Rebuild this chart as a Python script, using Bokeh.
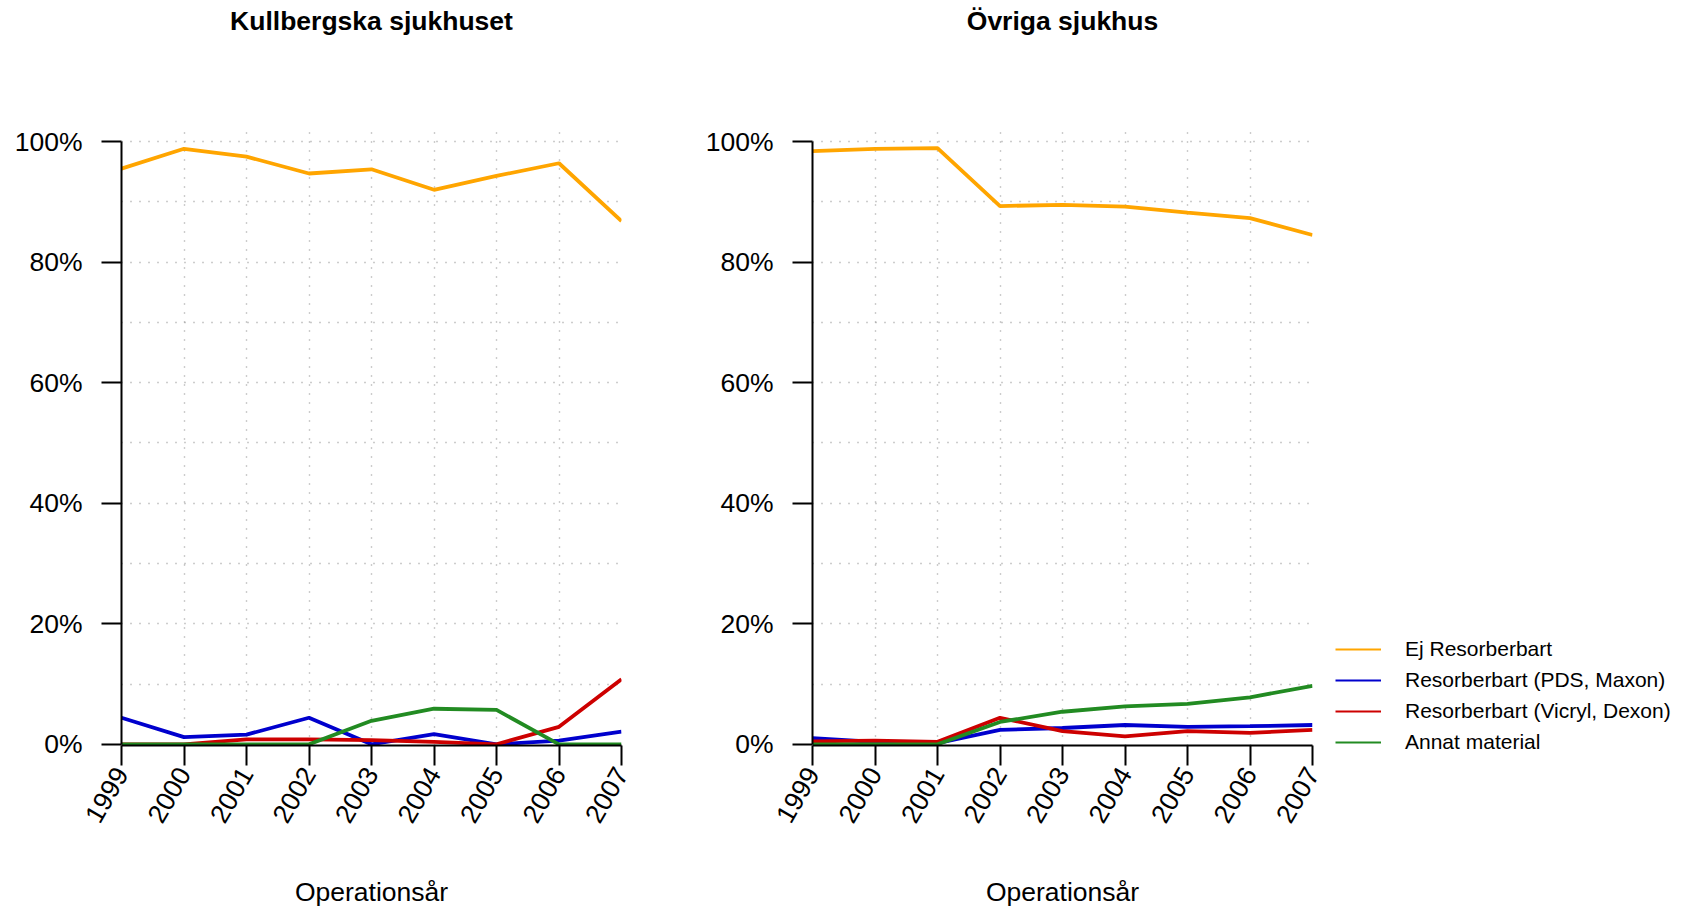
import math
from bokeh.plotting import figure
from bokeh.models import FixedTicker, NumeralTickFormatter, Range1d, Legend, LegendItem
from bokeh.core.properties import value
from bokeh.layouts import row, column
from bokeh.embed import file_html
from bokeh.resources import INLINE

years = [1999, 2000, 2001, 2002, 2003, 2004, 2005, 2006, 2007]
series_names = ["Ej Resorberbart", "Resorberbart (PDS, Maxon)",
                "Resorberbart (Vicryl, Dexon)", "Annat material"]
colors = ["#FFA500", "#0000CD", "#CD0000", "#228B22"]

panel_titles = ["Kullbergska sjukhuset", "Övriga sjukhus"]

kull_ej = [0.955, 0.988, 0.975, 0.947, 0.954, 0.920, 0.943, 0.964, 0.868]
kull_pds = [0.044, 0.012, 0.016, 0.044, 0.000, 0.017, 0.000, 0.006, 0.021]
kull_vicryl = [0.000, 0.000, 0.008, 0.008, 0.007, 0.004, 0.000, 0.029, 0.108]
kull_annat = [0.000, 0.000, 0.000, 0.000, 0.039, 0.059, 0.057, 0.000, 0.000]

ovr_ej = [0.984, 0.988, 0.989, 0.893, 0.895, 0.892, 0.882, 0.873, 0.845]
ovr_pds = [0.010, 0.004, 0.002, 0.024, 0.027, 0.032, 0.029, 0.030, 0.032]
ovr_vicryl = [0.005, 0.006, 0.004, 0.044, 0.022, 0.013, 0.022, 0.019, 0.024]
ovr_annat = [0.000, 0.000, 0.000, 0.037, 0.054, 0.063, 0.067, 0.078, 0.097]

y_ticks = [0, 0.2, 0.4, 0.6, 0.8, 1.0]
y_grid = [0.1, 0.2, 0.3, 0.4, 0.5, 0.6, 0.7, 0.8, 0.9, 1.0]

FONT = "Liberation Sans"
FRAME_W = 500
FRAME_H = 618
HEADER_H = 60
TOP = 129 - HEADER_H
BOTTOM = 162
TOTAL_W = 1688
LEFT_W, LEFT_BL = 688, 121
RIGHT_W, RIGHT_BL = 644, 124
LEG_W = TOTAL_W - LEFT_W - RIGHT_W
PLOT_H = TOP + FRAME_H + BOTTOM


def bare(width, height, xr, yr, **kw):
    f = figure(width=width, height=height, x_range=xr, y_range=yr,
               output_backend="svg", toolbar_location=None,
               x_axis_type=None, y_axis_type=None, **kw)
    f.outline_line_color = None
    f.grid.visible = False
    return f


# header strip with panel titles
header = bare(TOTAL_W, HEADER_H, Range1d(0, TOTAL_W), Range1d(0, HEADER_H), min_border=0)
header.text(x=[LEFT_BL + FRAME_W / 2, LEFT_W + RIGHT_BL + FRAME_W / 2],
            y=[HEADER_H - 20, HEADER_H - 20], text=panel_titles,
            text_align="center", text_baseline="alphabetic",
            text_font=value(FONT), text_font_size="26.5px",
            text_font_style="bold", text_color="black")


def make_panel(data, width, bl, br):
    p = figure(width=width, height=PLOT_H,
               x_range=Range1d(1999, 2007), y_range=Range1d(-0.002, 1.02),
               output_backend="svg", toolbar_location=None,
               min_border_left=bl, min_border_right=br,
               min_border_top=TOP, min_border_bottom=BOTTOM)
    p.outline_line_color = None

    p.xaxis.ticker = FixedTicker(ticks=years)
    p.yaxis.ticker = FixedTicker(ticks=y_ticks)
    p.yaxis.formatter = NumeralTickFormatter(format="0%")
    p.yaxis.bounds = (0, 1)
    p.xgrid.ticker = FixedTicker(ticks=years)
    p.ygrid.ticker = FixedTicker(ticks=y_grid)
    for g in (p.xgrid, p.ygrid):
        g.grid_line_color = "#9a9a9a"
        g.grid_line_dash = "1 8"
        g.grid_line_width = 1.4

    for ax in (p.xaxis, p.yaxis):
        ax.axis_line_color = "black"
        ax.axis_line_width = 2
        ax.major_tick_line_color = "black"
        ax.major_tick_line_width = 2
        ax.major_tick_out = 20
        ax.major_tick_in = 0
        ax.minor_tick_line_color = None
        ax.major_label_text_font = FONT
        ax.major_label_text_font_size = "26.5px"
        ax.major_label_text_color = "black"
    p.yaxis.major_label_standoff = 19
    p.xaxis.major_label_standoff = 4
    p.xaxis.major_label_orientation = math.pi / 3
    p.xaxis.axis_label = "Operationsår"
    p.xaxis.axis_label_text_font = FONT
    p.xaxis.axis_label_text_font_size = "26.5px"
    p.xaxis.axis_label_text_font_style = "normal"
    p.xaxis.axis_label_text_color = "black"
    p.xaxis.axis_label_standoff = 44

    for vals, c in zip(data, colors):
        p.line(years, vals, line_color=c, line_width=3.8)
    return p


ovr_data = [ovr_ej, ovr_pds, ovr_vicryl, ovr_annat]
p1 = make_panel([kull_ej, kull_pds, kull_vicryl, kull_annat], LEFT_W, LEFT_BL,
                LEFT_W - LEFT_BL - FRAME_W)
p2 = make_panel(ovr_data, RIGHT_W, RIGHT_BL, RIGHT_W - RIGHT_BL - FRAME_W)

# legend panel (its own lines lie outside its ranges; only legend samples show)
LEG_X0 = 1335 - (LEFT_W + RIGHT_W)
lp = bare(LEG_W, PLOT_H, Range1d(0, 1), Range1d(0, 1),
          min_border_left=LEG_X0, min_border_right=0, min_border_top=0,
          min_border_bottom=155)
samples = [lp.line(years, vals, line_color=c, line_width=2) for vals, c in zip(ovr_data, colors)]
items = [LegendItem(label=n, renderers=[r]) for n, r in zip(series_names, samples)]
leg = Legend(items=items, location="bottom_left", orientation="vertical")
leg.border_line_color = None
leg.background_fill_alpha = 0
leg.label_text_font = FONT
leg.label_text_font_size = "21px"
leg.label_text_color = "black"
leg.glyph_width = 46
leg.glyph_height = 20
leg.label_height = 20
leg.spacing = 7
leg.padding = 0
leg.margin = 0
leg.label_standoff = 24
lp.add_layout(leg, "center")

layout = column(header, row(p1, p2, column(lp)))
open("out.html", "w").write(file_html(layout, INLINE))
